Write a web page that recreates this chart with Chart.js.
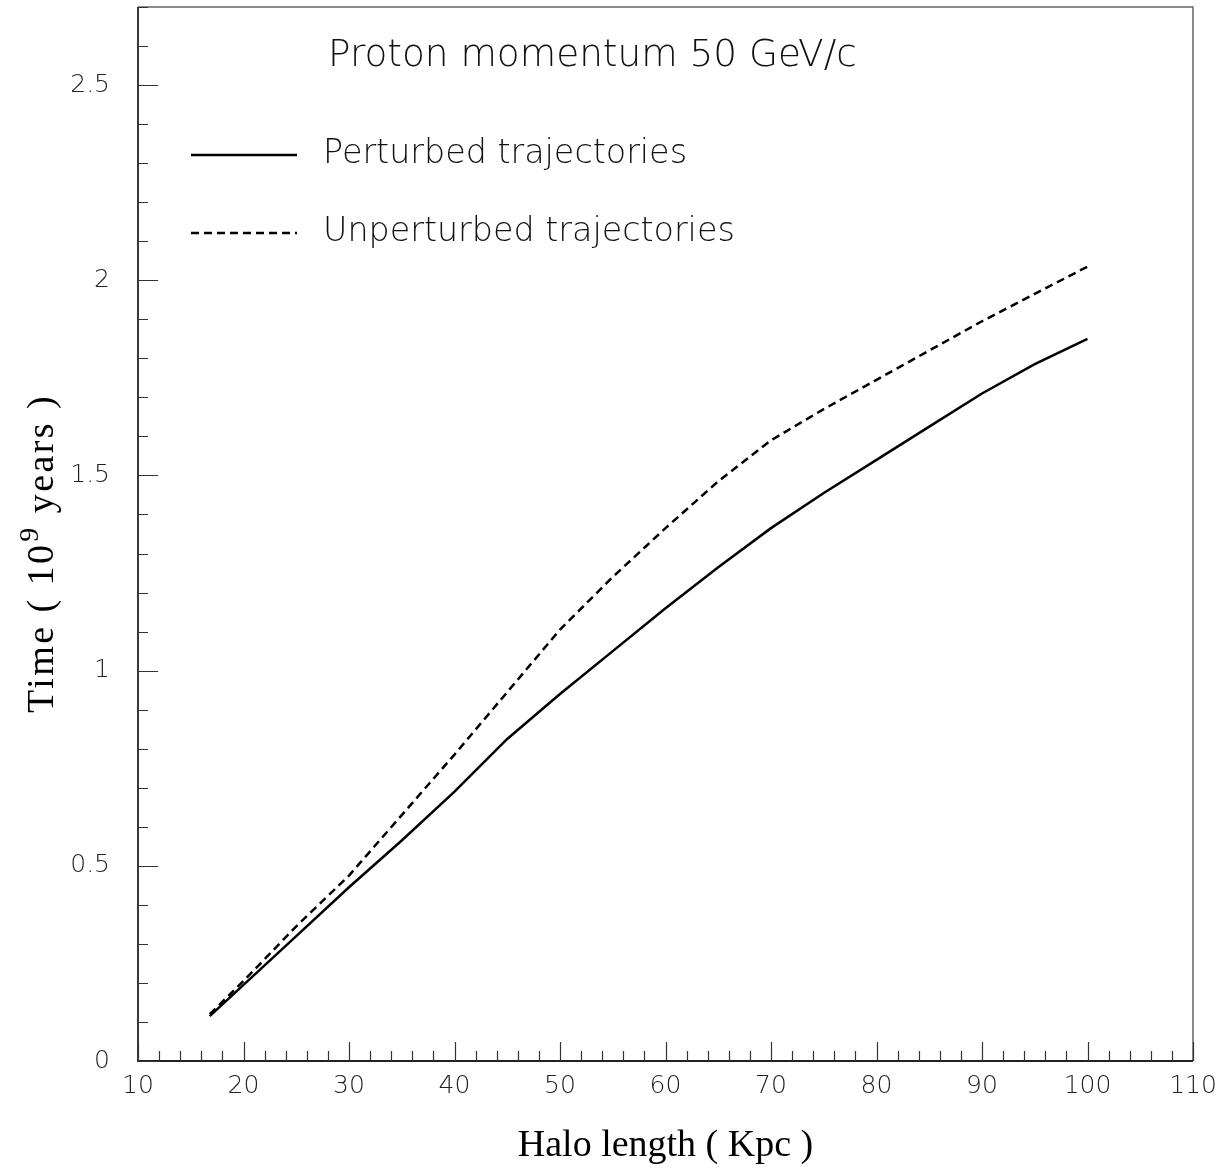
<!DOCTYPE html>
<html>
<head>
<meta charset="utf-8">
<script src="https://cdn.jsdelivr.net/npm/chart.js@4.4.1/dist/chart.umd.min.js"></script>
<style>
html,body{margin:0;padding:0;background:#fff;}
#wrap{width:1230px;height:1169px;position:relative;}
</style>
</head>
<body>
<div id="wrap"><canvas id="c" width="1230" height="1169"></canvas></div>
<script>
// ---- data ----
const haloLength  = [16.8, 20, 25, 30, 35, 40, 45, 50, 55, 60, 65, 70, 75, 80, 85, 90, 95, 100];
const perturbed   = [0.115, 0.195, 0.32, 0.445, 0.565, 0.69, 0.825, 0.94, 1.05, 1.16, 1.265, 1.365, 1.455, 1.54, 1.625, 1.71, 1.785, 1.85];
const unperturbed = [0.12, 0.205, 0.345, 0.475, 0.63, 0.785, 0.945, 1.105, 1.24, 1.365, 1.485, 1.59, 1.67, 1.745, 1.82, 1.895, 1.965, 2.035];
const xTickLabels = [10, 20, 30, 40, 50, 60, 70, 80, 90, 100, 110];
const yTickLabels = [0, 0.5, 1, 1.5, 2, 2.5];
const seriesNames = ['Perturbed trajectories', 'Unperturbed trajectories'];
const plotTitle   = 'Proton momentum 50 GeV/c';
const xAxisTitle  = 'Halo length ( Kpc )';
const yAxisTitleParts = ['Time ( 10', '9', ' years )'];

const SANS = '"DejaVu Sans", sans-serif';
const SERIF = '"Liberation Serif", "Times New Roman", serif';

function toPoints(xs, ys){ return xs.map((x,i)=>({x:x, y:ys[i]})); }

function fitSize(text, width, family, weight){
  const cv = document.createElement('canvas').getContext('2d');
  cv.font = weight + ' 100px ' + family;
  return 100 * width / cv.measureText(text).width;
}

const framePlugin = {
  id: 'frameTicks',
  beforeDatasetsDraw(chart){
    const {ctx, scales:{x, y}} = chart;
    const L = x.getPixelForValue(10), R = x.getPixelForValue(110);
    const B = y.getPixelForValue(0), T = y.getPixelForValue(2.7);
    ctx.save();
    ctx.strokeStyle = '#666';
    ctx.lineWidth = 1.5;
    ctx.beginPath();
    ctx.moveTo(L, T); ctx.lineTo(R, T); ctx.lineTo(R, B);
    ctx.stroke();
    ctx.strokeStyle = '#222';
    ctx.lineWidth = 1.8;
    ctx.beginPath();
    ctx.moveTo(L, T); ctx.lineTo(L, B); ctx.lineTo(R, B);
    ctx.stroke();
    ctx.lineWidth = 1.2;
    ctx.strokeStyle = '#333';
    ctx.beginPath();
    for (let k = 0; k <= 27; k++){
      const py = Math.round(y.getPixelForValue(k/10)) + 0.5;
      const len = (k % 5 === 0) ? 20 : 10;
      ctx.moveTo(L, py); ctx.lineTo(L + len, py);
    }
    for (let v = 10; v <= 110; v += 2){
      const px = Math.round(x.getPixelForValue(v)) + 0.5;
      const len = (v % 10 === 0) ? 19 : 10;
      ctx.moveTo(px, B); ctx.lineTo(px, B - len);
    }
    ctx.stroke();
    ctx.restore();
  },
  afterDraw(chart){
    const {ctx} = chart;
    ctx.save();
    ctx.fillStyle = '#111';
    ctx.textBaseline = 'alphabetic';
    ctx.textAlign = 'left';
    const tSize = fitSize(plotTitle, 529, SANS, '200');
    ctx.font = '200 ' + tSize + 'px ' + SANS;
    ctx.fillText(plotTitle, 328, 66);
    const ds = chart.data.datasets;
    const rows = [{y: 155, ty: 163}, {y: 233, ty: 241}];
    const lSize = fitSize(seriesNames[1], 412, SANS, '200');
    ds.forEach((d, i) => {
      ctx.strokeStyle = d.borderColor;
      ctx.lineWidth = d.borderWidth;
      ctx.setLineDash(d.borderDash || []);
      ctx.beginPath();
      ctx.moveTo(191, rows[i].y); ctx.lineTo(297, rows[i].y);
      ctx.stroke();
      ctx.setLineDash([]);
      ctx.font = '200 ' + lSize + 'px ' + SANS;
      ctx.fillText(d.label, 323, rows[i].ty);
    });
    // y axis title with a real superscript, spread to the reference length
    ctx.fillStyle = '#000';
    ctx.translate(53, 713);
    ctx.rotate(-Math.PI / 2);
    const big = '38px ' + SERIF, small = '28px ' + SERIF;
    ctx.font = big;
    const w0 = ctx.measureText(yAxisTitleParts[0]).width;
    const w2 = ctx.measureText(yAxisTitleParts[2]).width;
    ctx.font = small;
    const w1 = ctx.measureText(yAxisTitleParts[1]).width;
    const nChars = yAxisTitleParts.join('').length;
    const spacing = Math.max(0, (318 - (w0 + w1 + w2)) / nChars);
    ctx.letterSpacing = spacing.toFixed(2) + 'px';
    ctx.font = big;
    ctx.fillText(yAxisTitleParts[0], 0, 0);
    let w = w0 + spacing * yAxisTitleParts[0].length + 1;
    ctx.font = small;
    ctx.fillText(yAxisTitleParts[1], w, -15);
    w += w1 + spacing;
    ctx.font = big;
    ctx.fillText(yAxisTitleParts[2], w, 0);
    ctx.letterSpacing = '0px';
    ctx.restore();
  }
};

new Chart(document.getElementById('c'), {
  type: 'line',
  data: {
    datasets: [
      { label: seriesNames[0], data: toPoints(haloLength, perturbed), borderColor: '#000', borderWidth: 2.5, pointRadius: 0, tension: 0, fill: false },
      { label: seriesNames[1], data: toPoints(haloLength, unperturbed), borderColor: '#000', borderWidth: 2.5, borderDash: [8, 5], pointRadius: 0, tension: 0, fill: false }
    ]
  },
  options: {
    responsive: false,
    animation: false,
    devicePixelRatio: 1,
    layout: { padding: { left: 0, top: 7, right: 37, bottom: 0 } },
    plugins: { legend: { display: false }, tooltip: { enabled: false }, title: { display: false } },
    scales: {
      x: {
        type: 'linear', min: 10, max: 110,
        afterFit(s){ s.height = 108; s.paddingLeft = 0; s.paddingRight = 0; },
        grid: { display: false, drawTicks: false },
        border: { display: false },
        ticks: {
          stepSize: 10, autoSkip: false, maxRotation: 0, includeBounds: false,
          padding: 10, color: '#222',
          font: { family: SANS, size: 25, weight: '200' },
          callback: v => xTickLabels.includes(v) ? String(v) : ''
        },
        title: { display: true, text: xAxisTitle, color: '#000', font: { family: SERIF, size: 38 }, padding: { top: 0, bottom: 0 } }
      },
      y: {
        type: 'linear', min: 0, max: 2.7,
        afterFit(s){ s.width = 138; s.paddingTop = 0; s.paddingBottom = 0; },
        grid: { display: false, drawTicks: false },
        border: { display: false },
        ticks: {
          stepSize: 0.5, autoSkip: false, includeBounds: false,
          padding: 28, color: '#222',
          font: { family: SANS, size: 25, weight: '200' },
          callback: v => { const r = Math.round(v*10)/10; return yTickLabels.includes(r) ? String(r) : ''; }
        },
        title: { display: false }
      }
    }
  },
  plugins: [framePlugin]
});
</script>
</body>
</html>
